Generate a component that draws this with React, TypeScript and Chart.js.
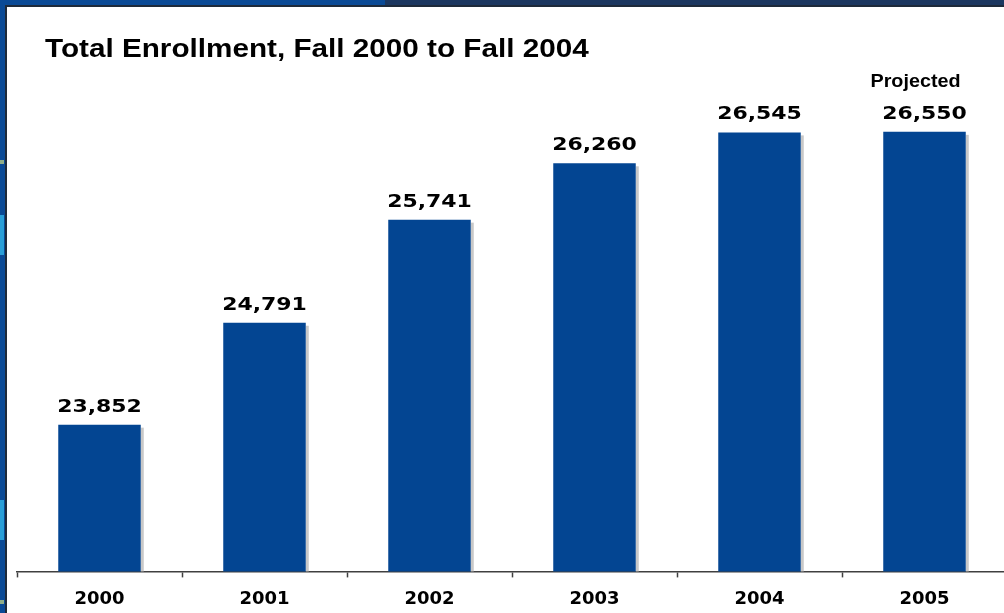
import React, { useEffect, useRef } from "react";
import { Chart, registerables } from "chart.js";

Chart.register(...registerables);

const categories: string[] = ["2000", "2001", "2002", "2003", "2004", "2005"];
const enrollment: number[] = [23852, 24791, 25741, 26260, 26545, 26550];
const barNotes: string[] = ["", "", "", "", "", "Projected"];
const chartTitle = "Total Enrollment, Fall 2000 to Fall 2004";

const BAR_COLOR = "#034592";

function fmt(n: number): string {
  return n.toLocaleString("en-US");
}

function stretchedText(
  ctx: CanvasRenderingContext2D,
  text: string,
  x: number,
  y: number,
  sx: number,
  align: "left" | "center"
) {
  ctx.save();
  ctx.translate(x, y);
  ctx.scale(sx, 1);
  ctx.textAlign = align;
  ctx.textBaseline = "alphabetic";
  ctx.fillText(text, 0, 0);
  ctx.restore();
}

const backgroundPlugin = {
  id: "slideBackground",
  beforeDraw(chart: any) {
    const ctx: CanvasRenderingContext2D = chart.ctx;
    const w = chart.width;
    const h = chart.height;
    ctx.save();
    ctx.fillStyle = "#0a4a96";
    ctx.fillRect(0, 0, w, h);
    ctx.fillStyle = "#1c3760";
    ctx.fillRect(385, 0, w - 385, 6);
    // faint pattern bits on the left strip
    ctx.fillStyle = "#2a9fd8";
    ctx.fillRect(0, 215, 4, 40);
    ctx.fillRect(0, 500, 4, 40);
    ctx.fillStyle = "#8fae8a";
    ctx.fillRect(0, 160, 4, 4);
    ctx.fillRect(0, 600, 4, 4);
    // dark frame lines
    ctx.fillStyle = "#1e2a3a";
    ctx.fillRect(5, 5, w, 2);
    ctx.fillRect(5, 5, 2, h);
    // white slide area
    ctx.fillStyle = "#ffffff";
    ctx.fillRect(7, 7, w - 7, h - 7);
    // title
    ctx.fillStyle = "#000000";
    ctx.font = "bold 26.5px 'Liberation Sans', Arial, sans-serif";
    stretchedText(ctx, chartTitle, 45, 57, 1.12, "left");
    ctx.restore();
  },
};

const shadowPlugin = {
  id: "barShadow",
  beforeDatasetsDraw(chart: any) {
    const ctx: CanvasRenderingContext2D = chart.ctx;
    const meta = chart.getDatasetMeta(0);
    const bottom = chart.chartArea.bottom;
    ctx.save();
    ctx.fillStyle = "#c8c8c8";
    meta.data.forEach((bar: any) => {
      const right = bar.x + bar.width / 2;
      ctx.fillRect(right, bar.y + 3, 3, bottom - bar.y - 3);
    });
    ctx.restore();
  },
};

const labelPlugin = {
  id: "valueLabels",
  afterDatasetsDraw(chart: any) {
    const ctx: CanvasRenderingContext2D = chart.ctx;
    const meta = chart.getDatasetMeta(0);
    ctx.save();
    ctx.fillStyle = "#000000";
    meta.data.forEach((bar: any, i: number) => {
      ctx.font = "bold 18px 'DejaVu Sans', Verdana, sans-serif";
      stretchedText(ctx, fmt(enrollment[i]), bar.x, bar.y - 13, 1.22, "center");
      if (barNotes[i]) {
        ctx.font = "bold 17.5px 'Liberation Sans', Arial, sans-serif";
        stretchedText(ctx, barNotes[i], bar.x - 9, 87, 1.13, "center");
      }
    });
    ctx.restore();
  },
};

export default function App() {
  const canvasRef = useRef<HTMLCanvasElement | null>(null);

  useEffect(() => {
    const canvas = canvasRef.current;
    if (!canvas) return;
    const chart = new Chart(canvas, {
      type: "bar",
      data: {
        labels: categories,
        datasets: [
          {
            label: "Total Enrollment",
            data: enrollment,
            backgroundColor: BAR_COLOR,
            borderWidth: 0,
            categoryPercentage: 1,
            barPercentage: 0.5,
          },
        ],
      },
      options: {
        responsive: false,
        animation: false,
        devicePixelRatio: 1,
        layout: { padding: { left: 17, right: 5, top: 83, bottom: 0 } },
        plugins: {
          legend: { display: false },
          title: { display: false },
          tooltip: { enabled: false },
        },
        scales: {
          x: {
            offset: true,
            grid: {
              display: true,
              offset: true,
              drawOnChartArea: false,
              drawTicks: true,
              tickLength: 6,
              tickWidth: 1.5,
              tickColor: "#404040",
            },
            border: { display: true, color: "#404040", width: 1.5 },
            ticks: {
              color: "#000000",
              padding: 11,
              font: { family: "'DejaVu Sans', Verdana, sans-serif", size: 18, weight: "bold" },
            },
          },
          y: {
            display: false,
            min: 22500,
            max: 27000,
          },
        },
      },
      plugins: [backgroundPlugin, shadowPlugin, labelPlugin],
    });
    return () => chart.destroy();
  }, []);

  return (
    <div
      style={{
        position: "fixed",
        left: 0,
        top: 0,
        width: 1004,
        height: 613,
        overflow: "hidden",
        background: "#0a4a96",
      }}
    >
      <canvas ref={canvasRef} width={1012} height={621} style={{ display: "block" }} />
    </div>
  );
}
